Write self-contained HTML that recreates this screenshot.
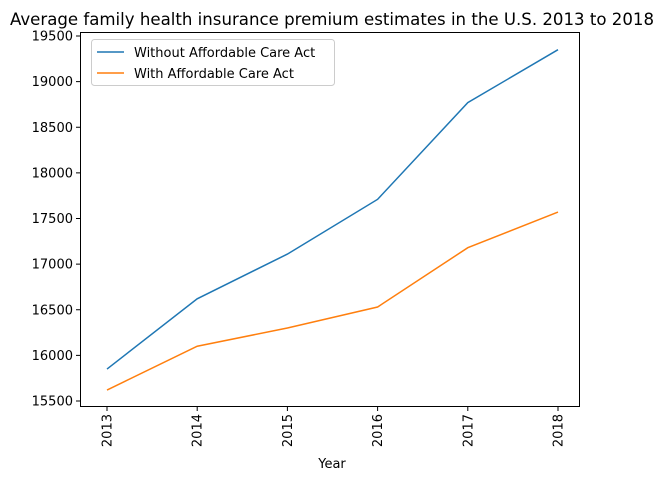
<!DOCTYPE html>
<html><head><meta charset="utf-8"><style>
body{margin:0;background:#fff;font-family:"DejaVu Sans","Liberation Sans",sans-serif;}
svg text{font-family:"DejaVu Sans","Liberation Sans",sans-serif;fill:#000}
</style></head><body>
<svg id="chart" width="664" height="481" xmlns="http://www.w3.org/2000/svg">
<text x="332" y="25" text-anchor="middle" font-size="16.6">Average family health insurance premium estimates in the U.S. 2013 to 2018</text>
<rect x="80.5" y="32.5" width="499" height="374" fill="none" stroke="#000" stroke-width="1"/>
<g id="ticks"></g>
<g id="lines"></g>
<text x="332" y="468" text-anchor="middle" font-size="13">Year</text>
<g>
<rect x="91.5" y="39.5" width="243" height="46" rx="3" fill="#fff" stroke="#ccc"/>
<line x1="97" y1="52" x2="124" y2="52" stroke="#1f77b4" stroke-width="1.5"/>
<text x="134" y="57" font-size="13">Without Affordable Care Act</text>
<line x1="97" y1="73" x2="124" y2="73" stroke="#ff7f0e" stroke-width="1.5"/>
<text x="134" y="78" font-size="13">With Affordable Care Act</text>
</g>
</svg>
<script>
const years=[2013,2014,2015,2016,2017,2018];
const withoutACA=[15850,16620,17110,17710,18770,19350];
const withACA=[15620,16100,16300,16530,17180,17570];
const yTicks=[15500,16000,16500,17000,17500,18000,18500,19000,19500];
const NS="http://www.w3.org/2000/svg";
const xScale=y=>107+(y-2013)*(558-107)/5;
const yScale=v=>401-(v-15500)*365/4000;
const tg=document.getElementById('ticks');
function mk(tag,attrs,parent){const e=document.createElementNS(NS,tag);for(const k in attrs)e.setAttribute(k,attrs[k]);parent.appendChild(e);return e;}
yTicks.forEach(v=>{const y=yScale(v);
 const l=mk('line',{x1:76,x2:80,y1:y,y2:y,stroke:'#000'},tg);
 
 
 const t=mk('text',{x:73,y:y+4.5,'text-anchor':'end','font-size':13},tg);t.textContent=v;
 
 
});
years.forEach(yr=>{const x=xScale(yr);
 const l=mk('line',{x1:x,x2:x,y1:407,y2:411,stroke:'#000'},tg);
 
 
 const t=mk('text',{x:0,y:0,'text-anchor':'end','font-size':13,transform:`translate(${x+4.5},414) rotate(-90)`},tg);t.textContent=yr;
 
 
});
const lg=document.getElementById('lines');
[[withoutACA,'#1f77b4','line-without-aca'],[withACA,'#ff7f0e','line-with-aca']].forEach(([d,c,n])=>{
 const p=mk('polyline',{points:d.map((v,i)=>xScale(years[i])+','+yScale(v)).join(' '),fill:'none',stroke:c,'stroke-width':1.5},lg);
 
 
});
</script>
</body></html>
